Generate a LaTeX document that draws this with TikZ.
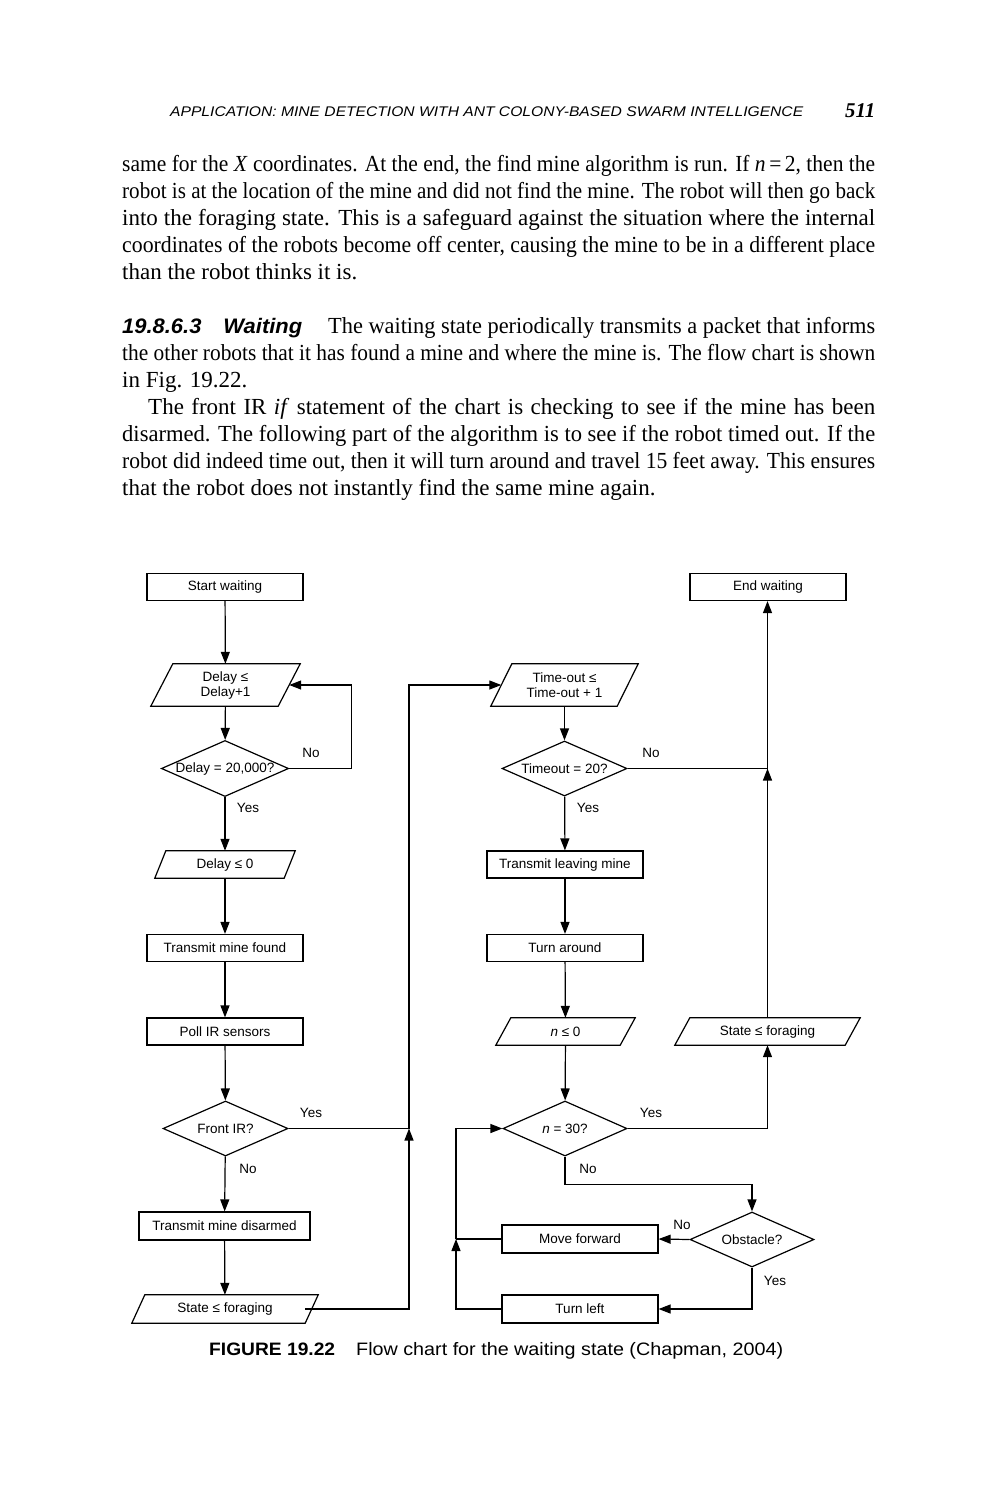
\documentclass[tikz,border=0pt]{standalone}
\usepackage{fontspec}
\usepackage{graphicx}
\setmainfont{Liberation Serif}
\setsansfont{Liberation Sans}
\newfontfamily\chartfont{Liberation Sans}
\usetikzlibrary{arrows.meta,shapes.geometric}

\newsavebox\linebox
% justify one printed line to a given width (squeeze it if it is too long)
\newcommand\fitline[2]{\sbox\linebox{#2}\ifdim\wd\linebox>#1\relax\scalebox{\fpeval{(#1)/(\the\wd\linebox)}}[1]{\usebox\linebox}\else\makebox[#1][s]{#2}\fi}
\newcommand\fitto[2]{\sbox\linebox{#2}\scalebox{\fpeval{(#1)/(\the\wd\linebox)}}[1]{\usebox\linebox}}

\begin{document}
\begin{tikzpicture}[x=1pt, y=-1pt, >={Triangle[length=12pt,width=9pt]},
  txt/.style={anchor=base west, inner sep=0pt, font=\fontsize{23}{27}\selectfont},
  box/.style={rectangle, draw, line width=1.2pt, minimum width=156pt, minimum height=27pt, inner sep=0pt, font=\chartfont\fontsize{13.5}{15}\selectfont},
  io/.style={rectangle, minimum height=27pt, inner sep=0pt, align=center, font=\chartfont\fontsize{13.5}{15}\selectfont},
  dia/.style={diamond, draw, line width=1.2pt, aspect=2.27, minimum width=125pt, minimum height=55pt, inner sep=0pt, font=\chartfont\fontsize{13.5}{15}\selectfont},
  lbl/.style={inner sep=0pt, font=\chartfont\fontsize{13.5}{15}\selectfont},
  flow/.style={->, line width=1.2pt},
  line/.style={line width=1.2pt}
]
\useasboundingbox[fill=white] (0,0) rectangle (993,1500);

% running head
\node[anchor=base west, inner sep=0pt, font=\sffamily\itshape\fontsize{14}{16}\selectfont] (head) at (170,116) {\fitto{633pt}{APPLICATION: MINE DETECTION WITH ANT COLONY-BASED SWARM INTELLIGENCE}};
\node[anchor=base west, inner sep=0pt, font=\bfseries\itshape\fontsize{21}{24}\selectfont] (pageno) at (845,117) {\fitto{30pt}{511}};

% text above the figure
\node[txt] (p1a) at (122,171) {\fitline{753pt}{same for the \textit{X} coordinates. At the end, the find mine algorithm is run. If \textit{n}\,=\,2, then the}};
\node[txt] (p1b) at (122,198) {\fitline{753pt}{robot is at the location of the mine and did not find the mine. The robot will then go back}};
\node[txt] (p1c) at (122,225) {\fitline{753pt}{into the foraging state. This is a safeguard against the situation where the internal}};
\node[txt] (p1d) at (122,252) {\fitline{753pt}{coordinates of the robots become off center, causing the mine to be in a different place}};
\node[txt] (p1e) at (122,279) {than the robot thinks it is.};

\node[anchor=base west, inner sep=0pt, font=\sffamily\bfseries\itshape\fontsize{21}{24}\selectfont] (sec) at (122,333) {\fitto{180pt}{19.8.6.3\quad Waiting}};
\node[txt] (p2a) at (328,333) {\fitline{547pt}{The waiting state periodically transmits a packet that informs}};
\node[txt] (p2b) at (122,360) {\fitline{753pt}{the other robots that it has found a mine and where the mine is. The flow chart is shown}};
\node[txt] (p2c) at (122,387) {in Fig. 19.22.};
\node[txt] (p3a) at (148,414) {\fitline{727pt}{The front IR \textit{if} statement of the chart is checking to see if the mine has been}};
\node[txt] (p3b) at (122,441) {\fitline{753pt}{disarmed. The following part of the algorithm is to see if the robot timed out. If the}};
\node[txt] (p3c) at (122,468) {\fitline{753pt}{robot did indeed time out, then it will turn around and travel 15 feet away. This ensures}};
\node[txt] (p3d) at (122,495) {that the robot does not instantly find the same mine again.};

% flow chart, left column
\node[box] (start) at (225,587) {Start waiting};
\node[io, minimum width=127pt, minimum height=42pt] (delayinc) at (225.5,685) {Delay ≤\\Delay+1};
\node[dia] (delaychk) at (225,768.5) {Delay = 20,000?};
\node[io, minimum width=129pt] (delayzero) at (225,864.5) {Delay ≤ 0};
\node[box] (txfound) at (225,948) {Transmit mine found};
\node[box] (pollir) at (225,1031.5) {Poll IR sensors};
\node[dia] (frontir) at (225.5,1128.5) {Front IR?};
\node[box, minimum width=171pt, minimum height=28pt] (txdisarm) at (224.5,1226) {Transmit mine disarmed};
\node[io, minimum width=173pt, minimum height=28pt] (stateL) at (225,1309) {State ≤ foraging};

% middle column
\node[io, minimum width=126pt, minimum height=42pt] (timeinc) at (564.5,685) {Time-out ≤\\Time-out + 1};
\node[dia] (timechk) at (564.5,768.5) {Timeout = 20?};
\node[box] (txleave) at (565,864.5) {Transmit leaving mine};
\node[box] (turnar) at (565,948) {Turn around};
\node[io, minimum width=124pt] (nzero) at (565.5,1031.5) {\textit{n} ≤ 0};
\node[dia, minimum width=124pt] (ncheck) at (565,1128.5) {\textit{n} = 30?};
\node[box, minimum height=28pt] (movefw) at (580,1239) {Move forward};
\node[box, minimum height=28pt] (turnleft) at (580,1309) {Turn left};
\node[dia, minimum width=124pt] (obst) at (752,1239.5) {Obstacle?};

% right column
\node[box] (endw) at (768,587) {End waiting};
\node[io, minimum width=170pt] (stateR) at (767.5,1031.5) {State ≤ foraging};

% parallelogram outlines
\foreach \n/\s in {delayinc/11, delayzero/5.5, stateL/6.5, timeinc/10.5, nzero/7.5, stateR/7.5}
  \draw[line, line join=miter] ([xshift=\s pt]\n.north west) -- ([xshift=\s pt]\n.north east)
    -- ([xshift=-\s pt]\n.south east) -- ([xshift=-\s pt]\n.south west) -- cycle;

% branch labels
\node[lbl] (no1) at (311,753) {No};
\node[lbl] (yes1) at (248,808) {Yes};
\node[lbl] (no2) at (651,753) {No};
\node[lbl] (yes2) at (588,808) {Yes};
\node[lbl] (yes3) at (311,1113) {Yes};
\node[lbl] (no3) at (248,1169) {No};
\node[lbl] (yes4) at (651,1113) {Yes};
\node[lbl] (no4) at (588,1169) {No};
\node[lbl] (no5) at (682,1225) {No};
\node[lbl] (yes5) at (775,1281) {Yes};

% junctions
\coordinate (jL) at (409,1128.5);
\coordinate (jR) at (767.5,768.5);
\coordinate (jN) at (456,1239);

% connectors
\draw[flow] (start) -- (delayinc);
\draw[flow] (delayinc) -- (delaychk);
\draw[flow] (delaychk.east) -- ++(62,0) |- (delayinc.east);
\draw[flow] (delaychk) -- (delayzero);
\draw[flow] (delayzero) -- (txfound);
\draw[flow] (txfound) -- (pollir);
\draw[flow] (pollir) -- (frontir);
\draw[flow] (frontir) -- (txdisarm);
\draw[flow] (txdisarm) -- (stateL);
\draw[flow] ([xshift=-6.5pt]stateL.east) -| (jL);
\draw[line] (frontir.east) -- (jL);
\draw[flow] (jL) |- (timeinc.west);

\draw[flow] (timeinc) -- (timechk);
\draw[flow] (timechk) -- (txleave);
\draw[flow] (txleave) -- (turnar);
\draw[flow] (turnar) -- (nzero);
\draw[flow] (nzero) -- (ncheck);
\draw[line] (timechk.east) -- (jR);
\draw[flow] (stateR) -- (jR);
\draw[flow] (jR) -- (endw.south -| jR);
\draw[flow] (ncheck.east) -| (stateR.south);
\draw[flow] (ncheck.south) -- ++(0,27.5) -| (obst.north);
\draw[flow] (obst.west) -- (movefw.east);
\draw[flow] (obst.south) |- (turnleft.east);
\draw[flow] (turnleft.west) -| (jN);
\draw[line] (movefw.west) -- (jN);
\draw[flow] (jN) |- (ncheck.west);

% caption
\node[anchor=base west, inner sep=0pt, font=\sffamily\bfseries\fontsize{18}{22}\selectfont] (figno) at (209,1355) {\fitto{126pt}{FIGURE 19.22}};
\node[anchor=base west, inner sep=0pt, font=\sffamily\fontsize{18}{22}\selectfont] (caption) at (356,1355) {\fitto{427pt}{Flow chart for the waiting state (Chapman, 2004)}};
\end{tikzpicture}
\end{document}
